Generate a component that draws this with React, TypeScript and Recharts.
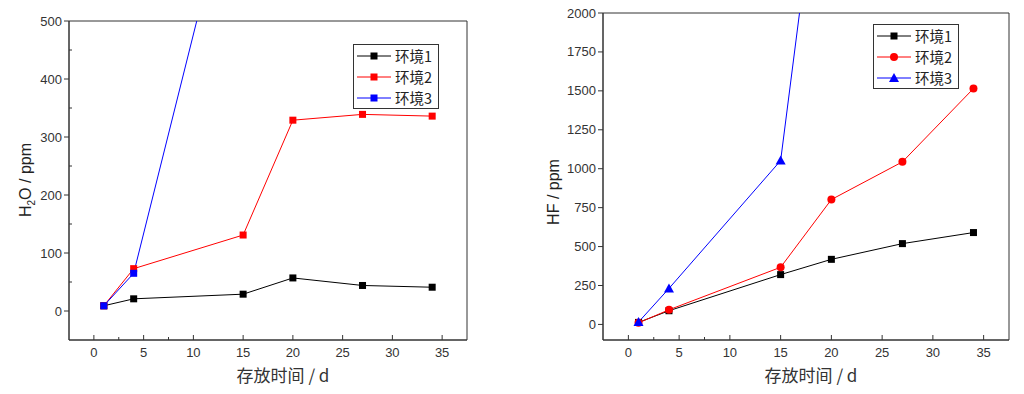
import { LineChart, Line, XAxis, YAxis, ReferenceArea, Legend } from "recharts";

const days = [1, 4, 15, 20, 27, 34];
const h2oEnv1 = [9, 21, 29, 57, 44, 41];
const h2oEnv2 = [9, 73, 131, 329, 339, 336];
const h2oEnv3 = [9, 65, 820, null, null, null];
const hfEnv1 = [13, 88, 320, 418, 519, 590];
const hfEnv2 = [10, 94, 367, 802, 1044, 1515];
const hfEnv3 = [15, 231, 1052, 3600, null, null];

const seriesNames = ["环境1", "环境2", "环境3"];
const xTicks = [0, 2.5, 5, 7.5, 10, 12.5, 15, 17.5, 20, 22.5, 25, 27.5, 30, 32.5, 35];
const h2oTicks = [0, 50, 100, 150, 200, 250, 300, 350, 400, 450, 500];
const hfTicks = [0, 125, 250, 375, 500, 625, 750, 875, 1000, 1125, 1250, 1375, 1500, 1625, 1750, 1875, 2000];

const COLORS = ["#000000", "#ff0000", "#0000ff"];

const h2oData = days.map((d, i) => ({ day: d, e1: h2oEnv1[i], e2: h2oEnv2[i], e3: h2oEnv3[i] }));
const hfData = days.map((d, i) => ({ day: d, e1: hfEnv1[i], e2: hfEnv2[i], e3: hfEnv3[i] }));

const tickFont = { fontFamily: "'Liberation Sans', Arial, sans-serif", fontSize: 13, fill: "#333" };

function Marker({ shape, cx, cy, color }: any) {
  if (shape === "circle") return <circle cx={cx} cy={cy} r={4} fill={color} />;
  if (shape === "triangle")
    return <polygon points={`${cx},${cy - 5} ${cx - 5},${cy + 4} ${cx + 5},${cy + 4}`} fill={color} />;
  return <rect x={cx - 3.5} y={cy - 3.5} width={7} height={7} fill={color} />;
}

const makeDot = (shape: string, color: string) => (p: any) => {
  if (p.cx == null || p.cy == null || p.value == null) return <g key={`d-${p.index}`} />;
  return (
    <g key={`d-${p.index}`}>
      <Marker shape={shape} cx={p.cx} cy={p.cy} color={color} />
    </g>
  );
};

const makeYTick = (step: number) => (props: any) => {
  const { x, y, payload } = props;
  const major = payload.value % step === 0;
  return (
    <g>
      {major ? (
        <line x1={x - 5} x2={x} y1={y} y2={y} stroke="#333" />
      ) : (
        <line x1={x} x2={x + 3} y1={y} y2={y} stroke="#333" />
      )}
      {major && (
        <text x={x - 7} y={y} dy={4.5} textAnchor="end" {...tickFont}>
          {payload.value}
        </text>
      )}
    </g>
  );
};

const XTick = (props: any) => {
  const { x, y, payload } = props;
  const major = payload.value % 5 === 0;
  return (
    <g>
      <line x1={x} x2={x} y1={y} y2={y - (major ? 5 : 3)} stroke="#333" />
      {major && (
        <text x={x} y={y} dy={17} textAnchor="middle" {...tickFont}>
          {payload.value}
        </text>
      )}
    </g>
  );
};

const xLabel = (dx: number) => (props: any) => {
  const vb = props.viewBox;
  return (
    <text
      x={vb.x + vb.width / 2 + dx}
      y={vb.y + 42}
      textAnchor="middle"
      fontFamily="'Noto Sans CJK SC', 'Liberation Sans', sans-serif"
      fontSize={17}
      fill="#333"
    >
      存放时间 / d
    </text>
  );
};

const makeLegend = (shapes: string[]) => (props: any) => {
  const payload = props.payload || [];
  return (
    <div
      style={{
        border: "1px solid #333",
        background: "#fff",
        padding: "0px 3px",
        width: 86,
        boxSizing: "border-box",
        whiteSpace: "nowrap",
      }}
    >
      {payload.map((entry: any, i: number) => (
        <div key={entry.value} style={{ display: "flex", alignItems: "center", height: 21 }}>
          <svg width={34} height={14} style={{ flex: "none" }}>
            <line x1={0} x2={34} y1={7} y2={7} stroke={entry.color} />
            <Marker shape={shapes[i]} cx={17} cy={7} color={entry.color} />
          </svg>
          <span
            style={{
              fontFamily: "'Noto Sans CJK SC', sans-serif",
              fontSize: 14.5,
              color: "#222",
              marginLeft: 4,
              lineHeight: "21px",
            }}
          >
            {entry.value}
          </span>
        </div>
      ))}
    </div>
  );
};

export default function App() {
  const keys = ["e1", "e2", "e3"];
  const leftShapes = ["square", "square", "square"];
  const rightShapes = ["square", "circle", "triangle"];

  return (
    <div style={{ position: "fixed", left: 0, top: 0, width: 1024, height: 394, background: "#fff" }}>
      <div style={{ position: "absolute", left: 0, top: 0 }}>
        <LineChart width={480} height={394} data={h2oData} margin={{ left: 19, right: 13, top: 21, bottom: 24 }}>
          <XAxis
            dataKey="day"
            type="number"
            domain={[-2.5, 37.5]}
            ticks={xTicks}
            allowDataOverflow
            height={30}
            tickSize={0}
            tickMargin={0}
            tickLine={false}
            tick={XTick}
            stroke="#333"
            label={{ content: xLabel(15) }}
          />
          <YAxis
            type="number"
            domain={[-50, 500]}
            ticks={h2oTicks}
            allowDataOverflow
            width={50}
            tickSize={0}
            tickMargin={0}
            tickLine={false}
            tick={makeYTick(100)}
            stroke="#333"
            label={{
              content: (props: any) => {
                const vb = props.viewBox;
                const cx = vb.x + 6;
                const cy = 180;
                return (
                  <text
                    transform={`translate(${cx},${cy}) rotate(-90)`}
                    textAnchor="middle"
                    dy={6}
                    fontFamily="'Liberation Sans', Arial, sans-serif"
                    fontSize={16}
                    fill="#222"
                  >
                    H<tspan fontSize={10} dy={4}>2</tspan>
                    <tspan dy={-4}>O / ppm</tspan>
                  </text>
                );
              },
            }}
          />
          <ReferenceArea x1={-2.5} x2={37.5} y1={-50} y2={500} fill="none" stroke="#333" />
          {keys.map((k, i) => (
            <Line
              key={k}
              dataKey={k}
              name={seriesNames[i]}
              stroke={COLORS[i]}
              strokeWidth={1}
              isAnimationActive={false}
              dot={makeDot(leftShapes[i], COLORS[i])}
              activeDot={false}
            />
          ))}
          <Legend
            layout="vertical"
            align="center"
            verticalAlign="middle"
            content={makeLegend(leftShapes)}
            wrapperStyle={{ position: "absolute", left: 353, top: 44, width: "auto", height: "auto" }}
          />
        </LineChart>
      </div>
      <div style={{ position: "absolute", left: 520, top: 0 }}>
        <LineChart width={504} height={394} data={hfData} margin={{ left: 23, right: 15, top: 13, bottom: 24 }}>
          <XAxis
            dataKey="day"
            type="number"
            domain={[-2.5, 37.5]}
            ticks={xTicks}
            allowDataOverflow
            height={30}
            tickSize={0}
            tickMargin={0}
            tickLine={false}
            tick={XTick}
            stroke="#333"
            label={{ content: xLabel(5) }}
          />
          <YAxis
            type="number"
            domain={[-100, 2000]}
            ticks={hfTicks}
            allowDataOverflow
            width={60}
            tickSize={0}
            tickMargin={0}
            tickLine={false}
            tick={makeYTick(250)}
            stroke="#333"
            label={{
              content: (props: any) => {
                const vb = props.viewBox;
                const cx = vb.x + 10;
                const cy = 192;
                return (
                  <text
                    transform={`translate(${cx},${cy}) rotate(-90)`}
                    textAnchor="middle"
                    dy={6}
                    fontFamily="'Liberation Sans', Arial, sans-serif"
                    fontSize={16}
                    fill="#222"
                  >
                    HF / ppm
                  </text>
                );
              },
            }}
          />
          <ReferenceArea x1={-2.5} x2={37.5} y1={-100} y2={2000} fill="none" stroke="#333" />
          {keys.map((k, i) => (
            <Line
              key={k}
              dataKey={k}
              name={seriesNames[i]}
              stroke={COLORS[i]}
              strokeWidth={1}
              isAnimationActive={false}
              dot={makeDot(rightShapes[i], COLORS[i])}
              activeDot={false}
            />
          ))}
          <Legend
            layout="vertical"
            align="center"
            verticalAlign="middle"
            content={makeLegend(rightShapes)}
            wrapperStyle={{ position: "absolute", left: 353, top: 24, width: "auto", height: "auto" }}
          />
        </LineChart>
      </div>
    </div>
  );
}
